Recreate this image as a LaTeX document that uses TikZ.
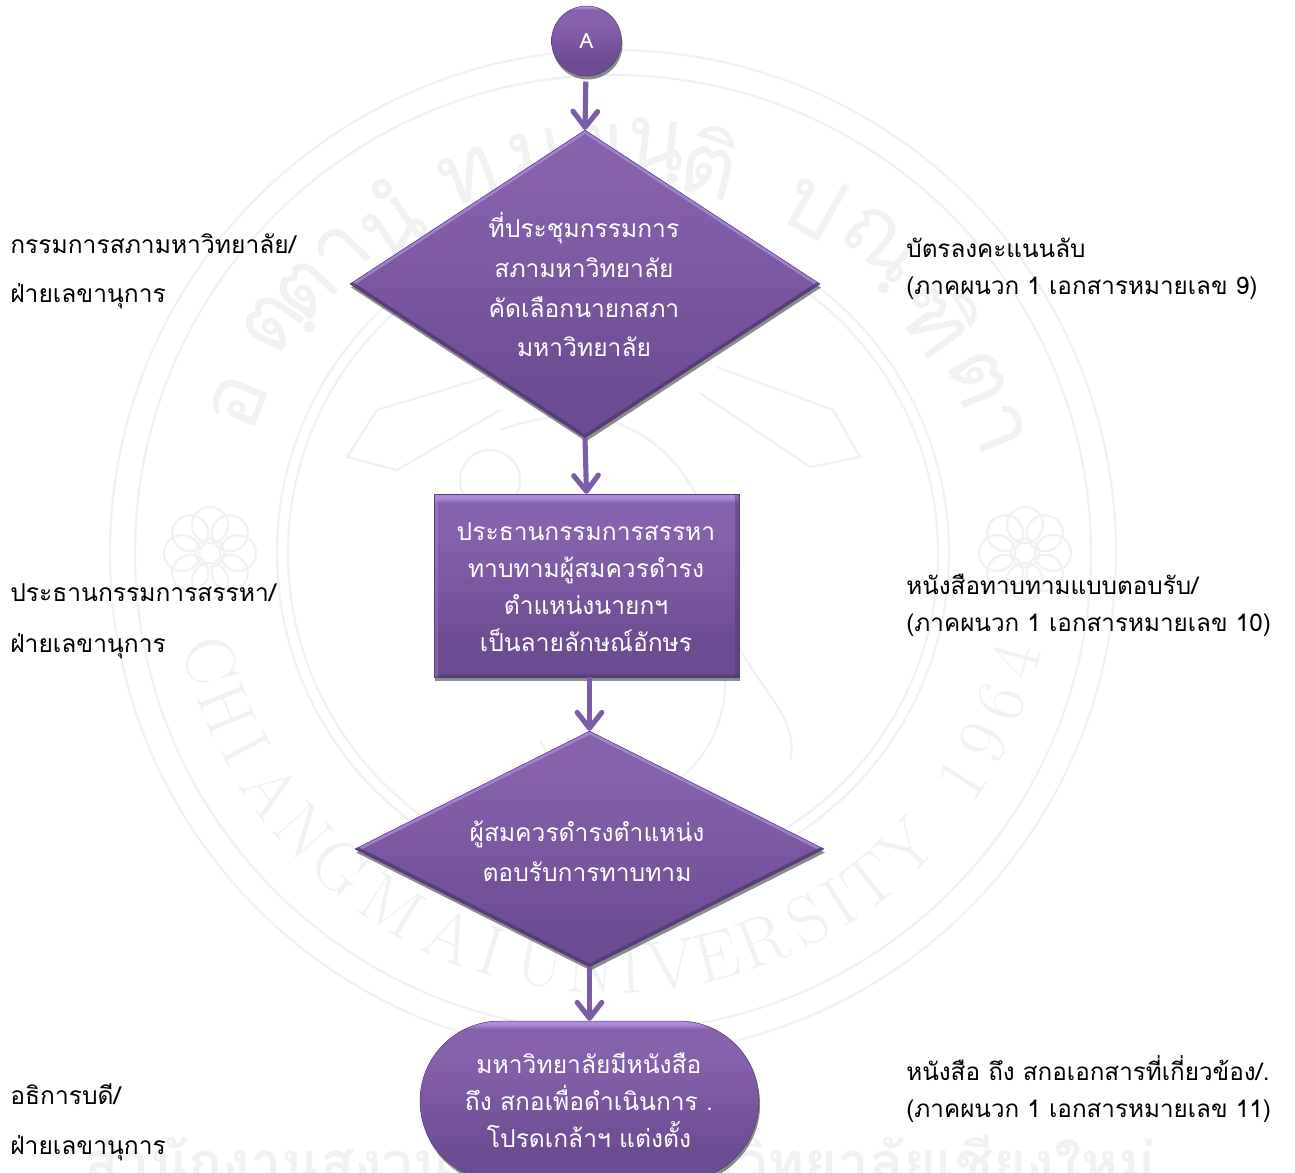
\documentclass[tikz,border=0pt]{standalone}
\usepackage{fontspec}
\usetikzlibrary{calc,shapes.geometric,arrows.meta,shadows}
\newfontfamily\thaifont[Script=Thai]{Loma}
\definecolor{flowarrow}{HTML}{7B5CA6}
\definecolor{flowlight}{HTML}{AB8DDC}
\definecolor{flowtop}{HTML}{8662AD}
\definecolor{flowbottom}{HTML}{6E4C92}
\definecolor{flowdark}{HTML}{4F3770}
\definecolor{markgray}{HTML}{F1F1F1}
\pgfdeclareverticalshading{flowface}{100bp}{color(0bp)=(flowdark); color(25bp)=(flowdark); color(26.2bp)=(flowbottom); color(35bp)=(flowbottom); color(65bp)=(flowtop); color(72.5bp)=(flowtop); color(74bp)=(flowlight); color(100bp)=(flowlight)}
\pgfdeclareverticalshading{diamondface}{100bp}{color(0bp)=(flowbottom); color(32bp)=(flowbottom); color(68bp)=(flowtop); color(100bp)=(flowtop)}
\tikzset{
  flowbox/.style={draw=flowdark!70!flowbottom,line width=0.3pt,shading=flowface,inner sep=0pt,
    drop shadow={fill=black,opacity=0.45,shadow xshift=0.6pt,shadow yshift=-2pt}},
  sidebevel/.style={path picture={
      \draw[flowlight,line width=4pt,opacity=0.35] (path picture bounding box.north west) -- (path picture bounding box.south west);
      \draw[flowdark,line width=4pt,opacity=0.45] (path picture bounding box.north east) -- (path picture bounding box.south east);
    }},
  decision/.style={diamond,draw=flowdark!70!flowbottom,line width=0.3pt,shading=diamondface,inner sep=0pt,aspect=1.5,
    drop shadow={fill=black,opacity=0.45,shadow xshift=0.6pt,shadow yshift=-2pt},
    path picture={
      \draw[flowlight,line width=3.5pt,opacity=0.75] (path picture bounding box.west) -- (path picture bounding box.north) -- (path picture bounding box.east);
      \draw[flowdark,line width=3.5pt,opacity=0.75] (path picture bounding box.west) -- (path picture bounding box.south) -- (path picture bounding box.east);
    }},
  flowtext/.style={text=white,align=center,inner sep=0pt,font=\thaifont\fontsize{14}{#1}\selectfont},
  whotext/.style={text=black,align=left,anchor=west,inner sep=0pt,font=\thaifont\fontsize{14}{#1}\selectfont},
  doctext/.style={text=black,align=left,anchor=west,inner sep=0pt,font=\thaifont\fontsize{13.8}{21pt}\selectfont},
  flowline/.style={flowarrow,line width=2.9pt,-{Straight Barb[length=9pt,width=14pt,round]}},
  sealline/.style={markgray,line width=1.3pt},
}
\begin{document}
\begin{tikzpicture}[x=0.02cm,y=-0.02cm]
\clip (0,0) rectangle (1295,1173);
\fill[white] (0,0) rectangle (1295,1173);

% seal behind the chart
\foreach \r in {503,478,336,325}
  \draw[sealline] (613,553) circle (\r);
\foreach \a/\t in {158/อ,146/ตฺ,136/ตา,124/นํ,111/ท,101/ม,92/ย,84/นฺ,76/ติ,60/ป,49/ณฺ,36/ฑิ,22/ตา}
  \node[text=markgray,rotate=\a-90,font=\thaifont\fontsize{50}{50}\selectfont] (seal\a) at ($(613,553)+(\a:404 and -404)$) {\t};
\foreach \a/\t in {195/C,202/H,208/I,215/A,222/N,229/G,238/M,247/A,253/I,260/U,267/N,272.5/I,278/V,284.5/E,291/R,298/S,303/I,308/T,315/Y,327/1,333/9,339/6,345/4}
  \node[text=markgray,rotate=\a+90,font=\fontsize{40}{40}\selectfont] at ($(613,553)+(\a:416 and -416)$) {\t};
\foreach \x in {210,1025} {
  \foreach \a in {0,45,...,315}
    \draw[sealline] (\x,553)++(\a:28) circle (18);
  \draw[sealline] (\x,553) circle (14);
}
\draw[sealline] (493,375) -- (377,410) -- (347,457) -- (397,470) -- (500,410);
\draw[sealline] (717,367) -- (833,410) -- (860,457) -- (810,467) -- (700,393);
\draw[sealline] (490,480) circle (30);
\draw[sealline] (500,430) .. controls (640,380) and (720,470) .. (735,640);
\draw[sealline] (720,640) .. controls (740,720) and (700,780) .. (640,800) .. controls (590,810) and (560,780) .. (540,740);
\draw[sealline] (790,760) .. controls (800,720) and (760,690) .. (735,640);
\node[text=markgray,anchor=base,inner sep=0pt,font=\thaifont\bfseries\fontsize{32}{32}\selectfont] (sealname) at (620,1182) {สำนักงานสงวนลิขสิทธิ์มหาวิทยาลัยเชียงใหม่};

% flow shapes
\node[flowbox,circle,minimum size=1.4cm] (start) at (586.5,41) {};
\node[decision,minimum width=9.4cm,minimum height=6.16cm] (meeting) at (585,284) {};
\node[flowbox,sidebevel,rectangle,minimum width=6.1cm,minimum height=3.66cm] (invite) at (586.5,585.5) {};
\node[decision,minimum width=9.38cm,minimum height=4.72cm] (accept) at (589.5,849) {};
\node[flowbox,rectangle,rounded corners=1.6cm,minimum width=6.78cm,minimum height=3.2cm] (letter) at (589.5,1101) {};

% flow text
\node[text=white,inner sep=0pt,font=\thaifont\fontsize{12}{14}\selectfont] (starttext) at (start) {A};
\node[flowtext=22.7pt] (meetingtext) at (584,284.5) {ที่ประชุมกรรมการ\\สภามหาวิทยาลัย\\คัดเลือกนายกสภา\\มหาวิทยาลัย};
\node[flowtext=21pt] (invitetext) at (586,587) {ประธานกรรมการสรรหา\\ทาบทามผู้สมควรดำรง\\ตำแหน่งนายกฯ\\เป็นลายลักษณ์อักษร};
\node[flowtext=22.7pt] (accepttext) at (587,851) {ผู้สมควรดำรงตำแหน่ง\\ตอบรับการทาบทาม};
\node[flowtext=21pt] (lettertext) at (589,1100) {มหาวิทยาลัยมีหนังสือ\\ถึง สกอเพื่อดำเนินการ .\\โปรดเกล้าฯ แต่งตั้ง};

% side text
\node[whotext=27.8pt] (who1) at (10,271) {กรรมการสภามหาวิทยาลัย/\\ฝ่ายเลขานุการ};
\node[whotext=28.9pt] (who2) at (10,621.5) {ประธานกรรมการสรรหา/\\ฝ่ายเลขานุการ};
\node[whotext=28.3pt] (who3) at (10,1122) {อธิการบดี/\\ฝ่ายเลขานุการ};
\node[doctext] (doc1) at (906,269) {บัตรลงคะแนนลับ\\(ภาคผนวก 1 เอกสารหมายเลข 9)};
\node[doctext] (doc2) at (906,605) {หนังสือทาบทามแบบตอบรับ/\\(ภาคผนวก 1 เอกสารหมายเลข 10)};
\node[doctext] (doc3) at (906,1089) {หนังสือ ถึง สกอเอกสารที่เกี่ยวข้อง/.\\(ภาคผนวก 1 เอกสารหมายเลข 11)};

% arrows
\draw[flowline,shorten <=3pt] (start) -- (meeting.north);
\draw[flowline] (meeting.south) -- (invite.north);
\draw[flowline] (invite.south -| accept.north) -- (accept.north);
\draw[flowline] (accept.south) -- (letter.north);
\end{tikzpicture}
\end{document}
